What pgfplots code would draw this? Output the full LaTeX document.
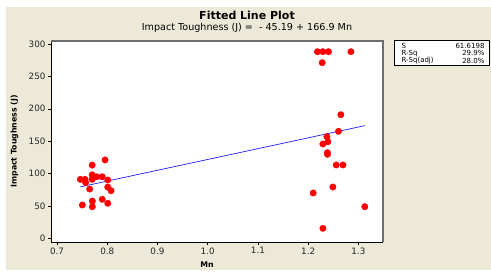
\documentclass[border=0pt]{standalone}
\usepackage{pgfplots}
\pgfplotsset{compat=1.18}
\usepackage{fontspec}
\setmainfont{DejaVu Sans}
\definecolor{bgbeige}{RGB}{236,233,216}
\definecolor{fitblue}{RGB}{30,30,255}
\definecolor{framegray}{RGB}{110,110,110}
\begin{document}
\begin{tikzpicture}[x=1bp,y=1bp]
\fill[white] (0,0) rectangle (491,278);
\fill[bgbeige] (6,8) rectangle (491,271);
\node[font=\fontsize{11bp}{13bp}\selectfont\bfseries] at (247,263) {Fitted Line Plot};
\node[font=\fontsize{9.6bp}{11bp}\selectfont] at (247,250.5) {Impact Toughness (J) =~~- 45.19 + 166.9 Mn};
\begin{axis}[
  at={(51bp,36bp)}, anchor=south west,
  scale only axis, width=332bp, height=201bp,
  xmin=0.688, xmax=1.349, ymin=-5.7, ymax=304.6,
  axis x line*=bottom, axis y line*=left,
  axis line style={black, line width=0.6bp},
  axis background/.style={fill=white},
  xtick={0.7,0.8,0.9,1.0,1.1,1.2,1.3},
  xticklabels={0.7,0.8,0.9,1.0,1.1,1.2,1.3},
  ytick={0,50,100,150,200,250,300},
  tick align=outside, major tick length=3bp,
  tick style={black, line width=0.5bp},
  ticklabel style={font=\fontsize{8.8bp}{10bp}\selectfont, text=black!85},
  xticklabel style={yshift=1bp},
  yticklabel style={xshift=1bp},
  /pgf/number format/assume math mode=true,
  xlabel={\textbf{Mn}}, ylabel={\textbf{Impact Toughness (J)}},
  label style={font=\fontsize{7.8bp}{9bp}\selectfont},
  xlabel style={at={(axis description cs:0.47,-0.114)}, anchor=center},
  ylabel style={at={(axis description cs:-0.11,0.5)}, anchor=center},
  clip=false,
]
\addplot[only marks, mark=*, mark size=3.2bp, red, mark options={draw=red, fill=red}] coordinates {
(0.7504,51.4)(0.7703,48.8)(0.7703,57.6)(0.790,60.2)(0.801,54)
(0.765,76)(0.801,79)(0.8076,73.5)(0.7464,91)(0.7558,91)(0.757,86)
(0.770,98)(0.770,91)(0.779,95)(0.790,95)(0.801,90)(0.770,113)(0.7956,121)
(1.2185,288.1)(1.2293,288.1)(1.2404,288.1)(1.2851,288.1)(1.2279,271.1)
(1.2651,190.8)(1.2604,165.2)(1.2373,156.9)(1.2393,149.1)(1.2293,145.6)
(1.2384,132.2)(1.2384,129.7)(1.2558,113.2)(1.2691,113.2)(1.2492,79.2)
(1.2100,70)(1.3127,48.8)(1.2293,15.4)
};
\addplot[fitblue, line width=0.7bp] coordinates {(0.7464,79.4)(1.3127,173.9)};
\draw[framegray, line width=1.6bp] (rel axis cs:0,1) -- (rel axis cs:1,1) -- (rel axis cs:1,0);
\end{axis}
\draw[black, line width=0.6bp, fill=white] (394,213) rectangle (489,238);
\begin{scope}[font=\fontsize{7bp}{8bp}\selectfont]
\node[anchor=west] at (398,232.3) {S};
\node[anchor=east] at (488,232.3) {61.6198};
\node[anchor=west] at (398,224.7) {R-Sq};
\node[anchor=east] at (488,224.7) {29.9\%};
\node[anchor=west] at (398,217) {R-Sq(adj)};
\node[anchor=east] at (488,217) {28.0\%};
\end{scope}
\end{tikzpicture}
\end{document}
